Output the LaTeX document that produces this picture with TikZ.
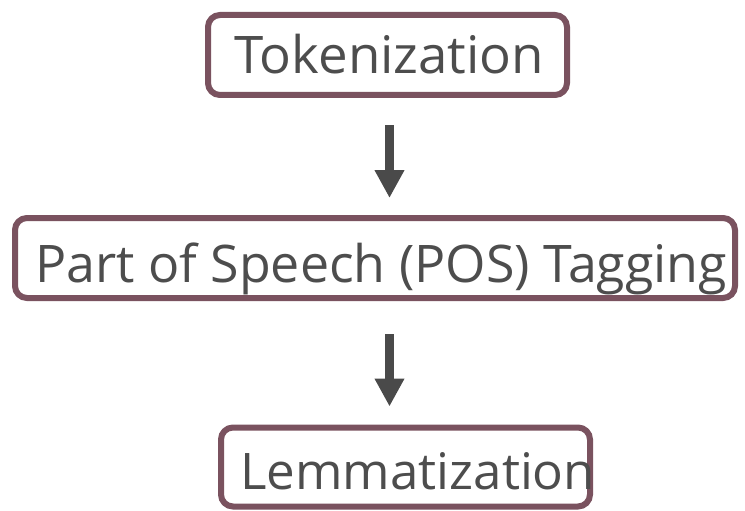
\documentclass[tikz,border=0pt]{standalone}
\usepackage{fontspec}
\setmainfont{Open Sans}
\usetikzlibrary{arrows.meta}
\definecolor{boxline}{RGB}{122,82,95}
\definecolor{txtgray}{RGB}{77,77,77}
\definecolor{arrgray}{RGB}{74,74,74}
\tikzset{
  stagebox/.style={draw=boxline, line width=6pt, rounded corners=12pt, fill=white,
    inner sep=0pt, outer sep=0pt},
  stagetext/.style={anchor=base west, inner sep=0pt, text=txtgray},
  flowarrow/.style={draw=arrgray, line width=9pt,
    -{Triangle[width=28pt,length=28pt]}}
}
\begin{document}
\begin{tikzpicture}[x=1pt,y=-1pt]
\useasboundingbox (0,0) rectangle (745,511);
\node[stagebox, minimum width=359pt, minimum height=80pt] (tok) at (387.5,55) {};
\node[stagebox, minimum width=720pt, minimum height=80pt] (pos) at (375,258) {};
\node[stagebox, minimum width=369pt, minimum height=79pt] (lem) at (405.5,467) {};
\node[stagetext] (toktxt) at (234,74)
  {\resizebox{310pt}{\height}{\fontsize{51.8pt}{60pt}\selectfont Tokenization}};
\node[stagetext] (postxt) at (35,282)
  {\resizebox{692pt}{\height}{\fontsize{51.8pt}{60pt}\selectfont Part of Speech (POS) Tagging}};
\node[stagetext] (lemtxt) at (240,489)
  {\resizebox{355pt}{\height}{\fontsize{50.4pt}{60pt}\selectfont Lemmatization}};
\draw[flowarrow, shorten <=30pt, shorten >=20pt]
  ([xshift=2pt]tok.south) -- ([xshift=14.5pt]pos.north);
\draw[flowarrow, shorten <=36pt, shorten >=21pt]
  ([xshift=14.5pt]pos.south) -- ([xshift=-16pt]lem.north);
\end{tikzpicture}
\end{document}
